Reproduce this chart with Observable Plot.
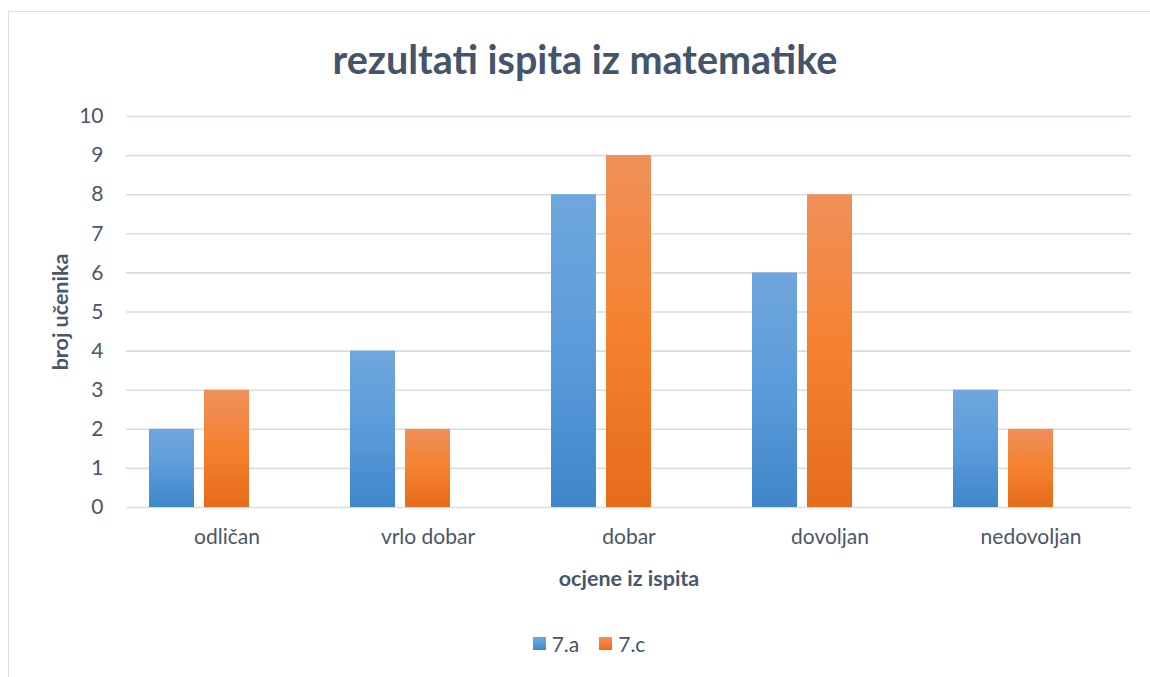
<!DOCTYPE html>
<html>
<head>
<meta charset="utf-8">
<script src="https://cdn.jsdelivr.net/npm/d3@7"></script>
<script src="https://cdn.jsdelivr.net/npm/@observablehq/plot@0.6"></script>
<style>
  html, body { margin: 0; padding: 0; background: #fff; overflow: hidden; }
  body { width: 1150px; height: 677px; position: relative; font-family: Lato, "Open Sans", sans-serif; }
  #frame { position: absolute; left: 8px; top: 11px; width: 1200px; height: 720px; border: 1.5px solid #dcdfe4; box-sizing: border-box; }
  #title { position: absolute; left: 0; top: 35px; width: 1170px; text-align: center; font-size: 39.5px; font-weight: 700; color: #44546a; }
  #chart { position: absolute; left: 0; top: 100px; }
  #legend { position: absolute; left: 0; top: 631px; width: 1178px; display: flex; justify-content: center; gap: 20px; font-size: 21px; color: #44546a; }
  .item { display: flex; align-items: center; gap: 6px; }
  .sw { width: 13px; height: 13px; display: inline-block; }
</style>
</head>
<body>
<div id="frame"></div>
<div id="title">rezultati ispita iz matematike</div>
<div id="chart"></div>
<div id="legend"></div>
<script>
const categories = ["odličan", "vrlo dobar", "dobar", "dovoljan", "nedovoljan"];
const seriesNames = ["7.a", "7.c"];
const values7a = [2, 4, 8, 6, 3];
const values7c = [3, 2, 9, 8, 2];
const yTicks = [0, 1, 2, 3, 4, 5, 6, 7, 8, 9, 10];
const gradients = {
  "7.a": ["#6fa7dd", "#5b9bdb", "#3f86c8"],
  "7.c": ["#f0905a", "#f5812f", "#e56c1a"]
};
const gradIds = {"7.a": "gradA", "7.c": "gradC"};

const rowsA = categories.map((c, i) => ({category: c, series: seriesNames[0], value: values7a[i]}));
const rowsC = categories.map((c, i) => ({category: c, series: seriesNames[1], value: values7c[i]}));

const textColor = "#4a5669";
const plot = Plot.plot({
  width: 1150,
  height: 500,
  marginLeft: 125,
  marginRight: 18,
  marginTop: 16,
  marginBottom: 93,
  style: {fontFamily: "Lato, 'Open Sans', sans-serif", fontSize: "21px", color: textColor, background: "transparent"},
  fx: {domain: categories, padding: 0, label: "ocjene iz ispita", tickSize: 0, tickPadding: 22, labelAnchor: "center", labelOffset: 78, labelArrow: "none"},
  x: {domain: [...seriesNames, " "], paddingInner: 0.18, paddingOuter: 0.4, axis: null},
  y: {domain: [0, 10], ticks: yTicks, tickSize: 0, tickPadding: 23, label: "broj učenika", labelAnchor: "center", labelOffset: 74, labelArrow: "none", grid: false},
  marks: [
    Plot.ruleY(yTicks, {stroke: "#d9dde3", strokeWidth: 1.6}),
    Plot.barY(rowsA, {fx: "category", x: "series", y: "value", fill: "url(#gradA)"}),
    Plot.barY(rowsC, {fx: "category", x: "series", y: "value", fill: "url(#gradC)"})
  ]
});

const defs = seriesNames.map(s => {
  const g = gradients[s];
  return `<linearGradient id="${gradIds[s]}" x1="0" y1="0" x2="0" y2="1">
    <stop offset="0" stop-color="${g[0]}"/><stop offset="0.5" stop-color="${g[1]}"/><stop offset="1" stop-color="${g[2]}"/></linearGradient>`;
}).join("");
plot.insertAdjacentHTML("afterbegin", `<defs>${defs}</defs>`);
plot.querySelectorAll('g[aria-label$="axis label"]').forEach(g => {
  g.setAttribute("font-weight", "bold");
  g.setAttribute("font-size", "21.5px");
  g.querySelectorAll("text").forEach(t => { t.textContent = t.textContent.replace(/\s*[↑→←↓]\s*/g, "").trim(); });
});
document.getElementById("chart").appendChild(plot);

const legend = document.getElementById("legend");
seriesNames.forEach(s => {
  const g = gradients[s];
  const item = document.createElement("div");
  item.className = "item";
  item.innerHTML = `<span class="sw" style="background: linear-gradient(${g[0]}, ${g[1]}, ${g[2]})"></span><span>${s}</span>`;
  legend.appendChild(item);
});
</script>
</body>
</html>
